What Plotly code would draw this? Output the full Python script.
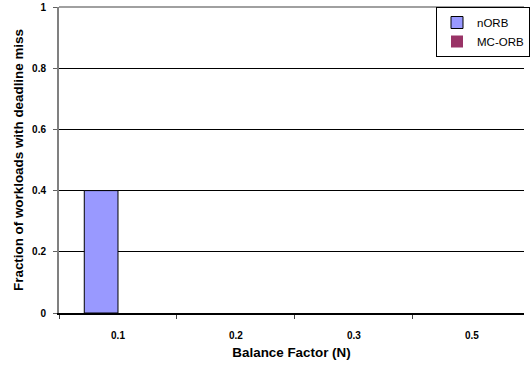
import plotly.graph_objects as go

categories = ["0.1", "0.2", "0.3", "0.5"]
norb_values = [0.4, 0.0, 0.0, 0.0]
mcorb_values = [0.0, 0.0, 0.0, 0.0]
y_ticks = [0, 0.2, 0.4, 0.6, 0.8, 1]
y_tick_labels = ["0", "0.2", "0.4", "0.6", "0.8", "1"]

FONT = "Liberation Sans, Arial, sans-serif"


def outline_widths(values):
    # zero-height bars get no outline (they sit on the axis line)
    return [1 if v > 0 else 0 for v in values]


fig = go.Figure()
fig.add_trace(go.Bar(
    x=categories, y=norb_values, name="nORB",
    marker=dict(color="#9999FF", line=dict(color="black", width=outline_widths(norb_values))),
    legendgroup="a",
))
fig.add_trace(go.Bar(
    x=categories, y=mcorb_values, name="MC-ORB",
    marker=dict(color="#993366", line=dict(color="black", width=outline_widths(mcorb_values))),
    legendgroup="b",
))

fig.update_layout(
    width=530, height=366,
    margin=dict(l=59, r=0, t=7, b=53),
    paper_bgcolor="white", plot_bgcolor="white",
    barmode="group", bargap=1.5 / 3.5, bargroupgap=0,
    font=dict(family=FONT, color="black"),
    showlegend=True,
    legend=dict(
        x=(441 - 59) / 471, y=1, xanchor="left", yanchor="top",
        bordercolor="black", borderwidth=1, bgcolor="white",
        font=dict(family=FONT, size=11.5, color="black"),
        tracegroupgap=0, itemwidth=30,
    ),
    xaxis=dict(
        type="category",
        range=[-0.5, 3.5 - 7 / 119.5],
        showline=True, linecolor="black", linewidth=1.5,
        ticks="outside", tickson="boundaries", ticklen=4, tickcolor="#404040",
        showgrid=False,
        tickfont=dict(family=FONT, size=10, weight="bold"),
        ticklabelstandoff=12,
        title=dict(text="Balance Factor (N)",
                   font=dict(family=FONT, size=13.4, weight="bold"),
                   standoff=8),
    ),
    yaxis=dict(
        range=[0, 1],
        tickvals=y_ticks, ticktext=y_tick_labels,
        showline=True, linecolor="#808080", linewidth=2,
        ticks="outside", ticklen=4, tickcolor="#606060",
        showgrid=True, gridcolor="black", gridwidth=1,
        zeroline=False,
        tickfont=dict(family=FONT, size=10, weight="bold"),
        ticklabelstandoff=5,
        title=dict(text="Fraction of workloads with deadline miss",
                   font=dict(family=FONT, size=13.4, weight="bold"),
                   standoff=5),
    ),
    shapes=[dict(type="line", xref="paper", yref="paper", x0=0, x1=1, y0=1, y1=1,
                 line=dict(color="#808080", width=1.5), layer="above")],
)

fig.write_html("out.html")
